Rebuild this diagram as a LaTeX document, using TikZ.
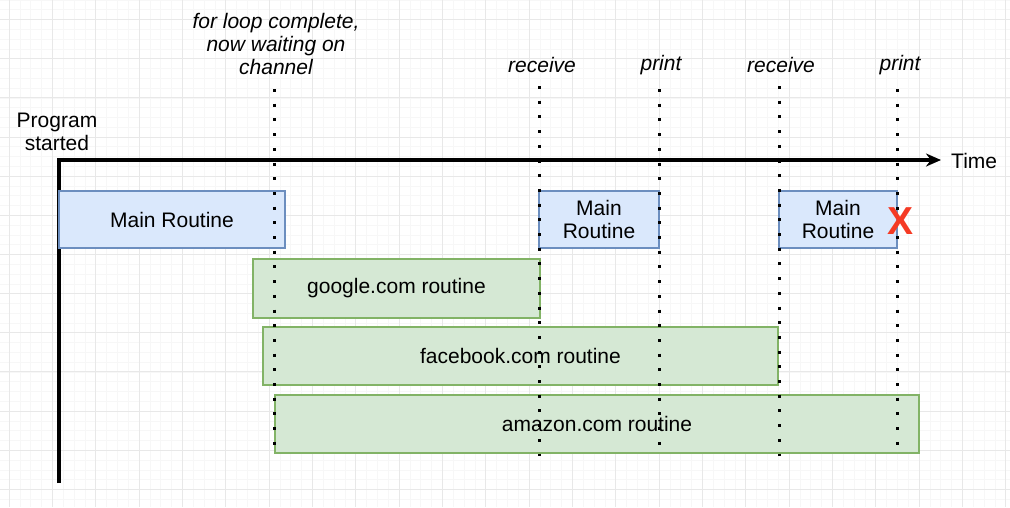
\documentclass[tikz,border=0pt]{standalone}
\usepackage{fontspec}
\setmainfont{Liberation Sans}
\usetikzlibrary{arrows.meta}
\definecolor{mainfill}{HTML}{DAE8FC}
\definecolor{maindraw}{HTML}{6C8EBF}
\definecolor{gofill}{HTML}{D5E8D4}
\definecolor{godraw}{HTML}{82B366}
\definecolor{gridminor}{HTML}{F7F7F7}
\definecolor{gridmajor}{HTML}{E8E8E8}
\definecolor{xred}{HTML}{F53A24}
\tikzset{
  txt/.style={font=\fontsize{21}{23}\selectfont, inner sep=0pt},
  itxt/.style={font=\fontsize{21}{23}\selectfont\itshape, inner sep=0pt, align=center},
  mainbox/.style={draw=maindraw, fill=mainfill, line width=1.8pt, rectangle, inner sep=0pt,
     minimum height=57pt, align=center, font=\fontsize{21}{23}\selectfont},
  gobox/.style={draw=godraw, fill=gofill, line width=1.8pt, rectangle, inner sep=0pt,
     minimum height=58pt, font=\fontsize{21}{23}\selectfont},
  dotline/.style={line width=3pt, dash pattern=on 3pt off 11.7pt},
  axis/.style={line width=3.5pt}
}
\begin{document}
\begin{tikzpicture}[x=1pt,y=-1pt]
\useasboundingbox (0,0) rectangle (1010,507);
\fill[white] (0,0) rectangle (1010,507);
\begin{scope}
\clip (0,0) rectangle (1010,507);
\foreach \k in {-1,...,93} \draw[gridminor, line width=0.6pt] ({9+10.833*\k},0) -- ({9+10.833*\k},507);
\foreach \k in {-2,...,50} \draw[gridminor, line width=0.6pt] (0,{19.5+9.79*\k}) -- (1010,{19.5+9.79*\k});
\foreach \k in {0,...,23} \draw[gridmajor, line width=0.8pt] ({9+43.333*\k},0) -- ({9+43.333*\k},507);
\foreach \k in {0,...,12} \draw[gridmajor, line width=0.8pt] (0,{19.5+39.15*\k}) -- (1010,{19.5+39.15*\k});
\end{scope}

% axes
\coordinate (origin) at (59,160);
\coordinate (yend) at (59,483);
\coordinate (tend) at (941,160);
\draw[axis] (yend) -- (origin);
\draw[axis, -{Stealth[length=15pt,width=13pt]}] ([xshift=-1.75pt]origin) -- (tend);
\node[txt, anchor=west] (time) at (951,161) {Time};
\node[txt, align=center] (start) at (57,132) {Program\\started};

% boxes
\node[mainbox, minimum width=226pt] (m1) at (172,219.5) {Main Routine};
\node[mainbox, minimum width=120pt] (m2) at (599,219.5) {Main\\Routine};
\node[mainbox, minimum width=118pt] (m3) at (838,219.5) {Main\\Routine};
\node[gobox, minimum width=287pt, minimum height=59pt] (g) at (396.5,288.5) {google.com routine};
\node[gobox, minimum width=515pt] (f) at (520.5,356) {facebook.com routine};
\node[gobox, minimum width=644pt] (a) at (597,424) {amazon.com routine};

% labels
\node[itxt] (loop) at (276,44) {for loop complete,\\now waiting on\\channel};
\node[itxt] (r1) at (542,65) {receive};
\node[itxt] (p1) at (661,65) {print};
\node[itxt] (r2) at (781,65) {receive};
\node[itxt] (p2) at (900,65) {print};

% dotted lines
\coordinate (d1t) at (274,89);  \coordinate (d1b) at (274,456);
\coordinate (d2t) at (539,86);  \coordinate (d2b) at (539,456);
\coordinate (d3t) at (659,89);  \coordinate (d3b) at (659,456);
\coordinate (d4t) at (779,86);  \coordinate (d4b) at (779,456);
\coordinate (d5t) at (897,89);  \coordinate (d5b) at (897,456);
\draw[dotline] (d1t) -- (d1b);
\draw[dotline] (d2t) -- (d2b);
\draw[dotline] (d3t) -- (d3b);
\draw[dotline] (d4t) -- (d4b);
\draw[dotline] (d5t) -- (d5b);

% red X
\node[inner sep=0pt, text=xred, font=\fontsize{39}{39}\selectfont\bfseries] (x) at (900,221) {X};
\end{tikzpicture}
\end{document}
